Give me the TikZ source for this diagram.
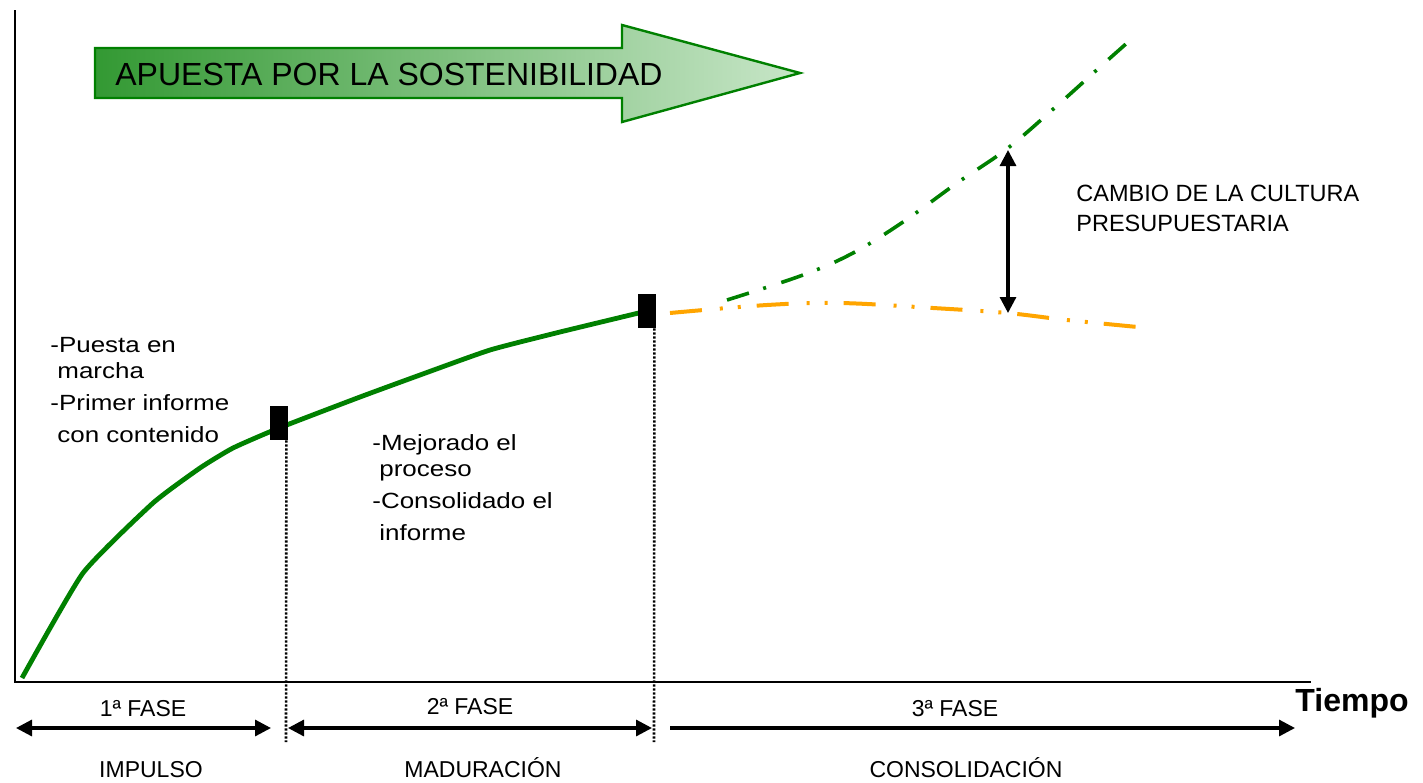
\documentclass[tikz,border=0pt]{standalone}
\usepackage{fontspec}
\setmainfont{Liberation Sans}
\newfontfamily\widesans[FakeStretch=1.18]{Liberation Sans}
\usetikzlibrary{arrows.meta,positioning}
\definecolor{arrowdark}{HTML}{339933}
\definecolor{arrowlight}{HTML}{C8E6C8}
\definecolor{budget}{HTML}{FFA500}
\tikzset{
  axis/.style={line width=1pt},
  growth/.style={line width=2.4pt, draw=green!50!black, line join=round},
  trendup/.style={line width=1.8pt, draw=green!50!black,
                  dash pattern=on 11.5pt off 7.5pt on 1.5pt off 8pt},
  trendflat/.style={line width=2pt, draw=budget,
                    dash pattern=on 16pt off 9pt on 1.5pt off 7.5pt on 1.5pt off 8pt},
  marker/.style={fill=black, minimum width=9pt, minimum height=17pt, inner sep=0pt},
  cut/.style={line width=1.3pt, dash pattern=on 1.1pt off 0.9pt},
  phase/.style={line width=1.6pt, {Triangle[length=8pt,width=8pt]}-{Triangle[length=8pt,width=8pt]}},
  phaseend/.style={line width=1.6pt, -{Triangle[length=8pt,width=8pt]}},
  gap/.style={line width=1.6pt, {Triangle[length=8pt,width=8pt]}-{Triangle[length=8pt,width=8pt]}},
  lab/.style={font=\fontsize{11.5pt}{13pt}\selectfont, inner sep=0pt, anchor=base},
  note/.style={font=\widesans\fontsize{11pt}{13pt}\selectfont, align=left,
               inner sep=0pt, anchor=north west},
}
\begin{document}
\begin{tikzpicture}[x=0.5pt, y=-0.5pt]
  \useasboundingbox (0,0) rectangle (1423,782);
  % banner arrow
  \shade[left color=arrowdark, right color=arrowlight]
    (95,48) -- (622,48) -- (622,25) -- (800,73) -- (622,122) -- (622,98) -- (95,98) -- cycle;
  \draw[green!50!black, line width=1.2pt]
    (95,48) -- (622,48) -- (622,25) -- (800,73) -- (622,122) -- (622,98) -- (95,98) -- cycle;
  \node[inner sep=0pt, anchor=base west, font=\fontsize{16pt}{18pt}\selectfont] (title)
    at (115,85) {APUESTA POR LA SOSTENIBILIDAD};
  % axes
  \coordinate (origin) at (15,682);
  \coordinate (ytop) at (15,10);
  \coordinate (xend) at (1311,682);
  \draw[axis] (ytop) -- (origin) -- (xend);
  \node[inner sep=0pt, anchor=base west, font=\bfseries\fontsize{16pt}{18pt}\selectfont] (tiempo)
    at (1295,711) {Tiempo};
  % growth curve
  \draw[growth] plot[smooth, tension=0.3] coordinates {(22,678) (83,573) (153,503)
    (200,468) (233,448) (279,428) (360,397) (420,375) (490,350) (560,332) (647,311)};
  \draw[trendup] plot[smooth, tension=0.6] coordinates {(727,300) (803,275) (853,253)
    (903,222) (957,183) (1008,148) (1060,103) (1100,67) (1127,43)};
  \draw[trendflat] plot[smooth, tension=0.6] coordinates {(670,313) (767,305) (840,303)
    (933,308) (1007,313) (1067,320) (1148,328)};
  \node[marker] (m1) at (279,423) {};
  \node[marker] (m2) at (647,311) {};
  \coordinate (c1) at (286,742);
  \coordinate (c2) at (654,742);
  \draw[cut] (m1.south east) ++(-1pt,0) -- (c1);
  \draw[cut] (m2.south east) ++(-1pt,0) -- (c2);
  % gap between trends
  \coordinate (hi) at (1008,150);
  \coordinate (lo) at (1008,313);
  \draw[gap] (hi) -- (lo);
  \node[note, font=\fontsize{11.75pt}{15pt}\selectfont] (culture) at (1076,185)
    {CAMBIO DE LA CULTURA\\PRESUPUESTARIA};
  % phase notes
  \node[note] (notea) at (50,337)
    {-Puesta en\\\hspace*{3.5pt}marcha\\[3pt]-Primer informe\\[3pt]\hspace*{3.5pt}con contenido};
  \node[note] (noteb) at (372,434)
    {-Mejorado el\\\hspace*{3.5pt}proceso\\[3pt]-Consolidado el\\[3pt]\hspace*{3.5pt}informe};
  % phases
  \coordinate (p1a) at (16,728);
  \coordinate (p1b) at (271,728);
  \coordinate (p2a) at (288,728);
  \coordinate (p2b) at (652,728);
  \coordinate (p3a) at (670,728);
  \coordinate (p3b) at (1295,728);
  \draw[phase] (p1a) -- (p1b);
  \draw[phase] (p2a) -- (p2b);
  \draw[phaseend] (p3a) -- (p3b);
  \node[lab] (fase1) at (143,716) {1ª FASE};
  \node[lab] (fase2) at (470,714) {2ª FASE};
  \node[lab] (fase3) at (955,716) {3ª FASE};
  \node[lab] (impulso) at (151,777) {IMPULSO};
  \node[lab] (maduracion) at (483,777) {MADURACIÓN};
  \node[lab] (consolidacion) at (966,777) {CONSOLIDACIÓN};
\end{tikzpicture}
\end{document}
